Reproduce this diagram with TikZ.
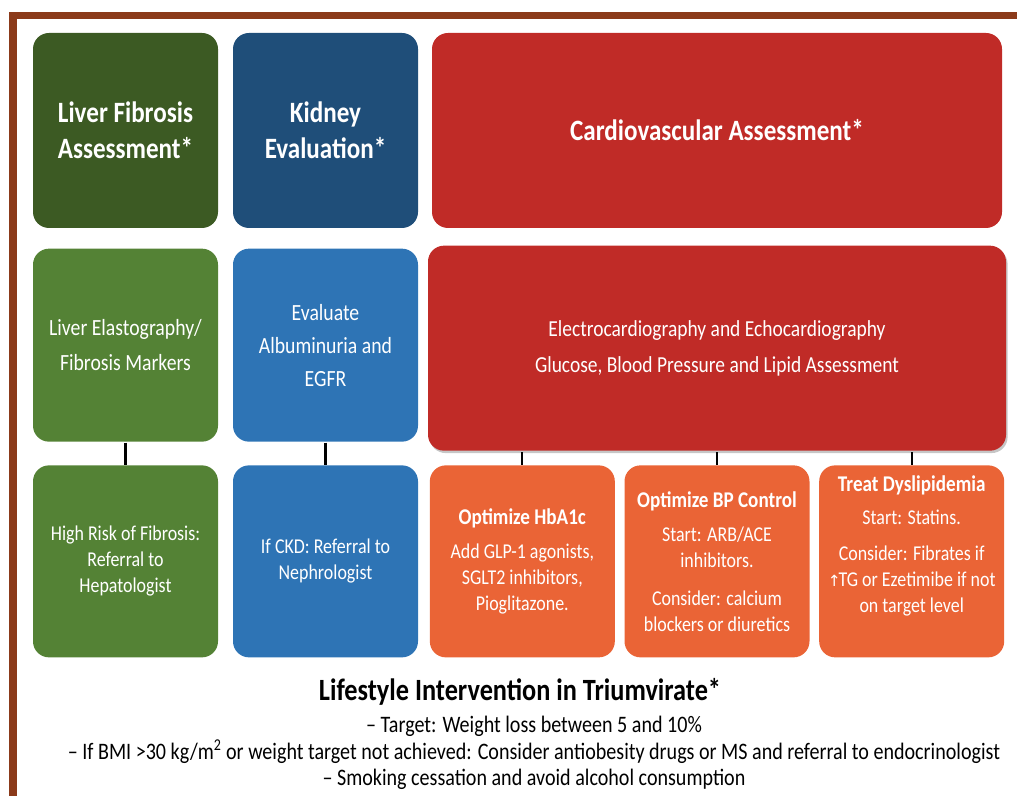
\documentclass[tikz,border=0pt]{standalone}
\usepackage{fontspec}
\setmainfont[FakeStretch=0.85]{Carlito}
\newfontfamily\arrowfont{DejaVu Sans}
\usepackage{tikz}
\usetikzlibrary{positioning,shadows}
\definecolor{frameBrown}{HTML}{8B3A1A}
\definecolor{liverDark}{HTML}{3C5A23}
\definecolor{kidneyDark}{HTML}{1F4E79}
\definecolor{cardioRed}{HTML}{C02B27}
\definecolor{liverGreen}{HTML}{548235}
\definecolor{kidneyBlue}{HTML}{2E74B5}
\definecolor{planOrange}{HTML}{EA6436}

\begin{document}
\begin{tikzpicture}[very thick]
    \useasboundingbox (0,0) rectangle (25.425,19.9);

    % Shapes
    \tikzstyle{head}=[rectangle, rounded corners=0.4cm, text=white, align=center, minimum width=4.625cm, minimum height=4.875cm, font=\bfseries\fontsize{21}{25.5}\selectfont]
    \tikzstyle{exam}=[rectangle, rounded corners=0.4cm, text=white, align=center, minimum width=4.625cm, minimum height=4.825cm, font=\fontsize{16.5}{24.5}\selectfont]
    \tikzstyle{plan}=[rectangle, rounded corners=0.4cm, text=white, align=center, minimum width=4.625cm, minimum height=4.8cm, font=\fontsize{15}{18.5}\selectfont]
    \tikzstyle{link}=[black, line width=1.6pt]

    % Frame
    \draw[frameBrown, line width=5pt] (0.325,0) |- (25.425,19.5);

    % Headers
    \node[head, fill=liverDark] at (3.1375,16.6375) (liverHead) {Liver Fibrosis\\Assessment*};
    \node[head, fill=kidneyDark] at (8.1375,16.6375) (kidneyHead) {Kidney\\Evaluation*};
    \node[head, fill=cardioRed, minimum width=14.25cm] at (17.925,16.6375) (cardioHead) {Cardiovascular Assessment*};

    % Tests
    \node[exam, fill=liverGreen, below=0.475cm of liverHead] (liverTest) {Liver Elastography/\\Fibrosis Markers};
    \node[exam, fill=kidneyBlue, below=0.475cm of kidneyHead, font=\fontsize{16.5}{23.5}\selectfont] (kidneyTest) {Evaluate\\Albuminuria and\\EGFR};
    \node[exam, fill=cardioRed, below=0.4cm of cardioHead, minimum width=14.45cm, minimum height=5.125cm, font=\fontsize{16.3}{25.5}\selectfont,
          drop shadow={opacity=0.45, shadow xshift=0.04cm, shadow yshift=-0.06cm}] (cardioTest)
          {Electrocardiography and Echocardiography\\Glucose, Blood Pressure and Lipid Assessment};

    % Referrals
    \node[plan, fill=liverGreen, below=0.55cm of liverTest] (liverRef) {High Risk of Fibrosis:\\Referral to\\Hepatologist};
    \node[plan, fill=kidneyBlue, below=0.55cm of kidneyTest] (kidneyRef) {If CKD: Referral to\\Nephrologist};

    % Treatments
    \node[plan, fill=planOrange, below=0.325cm of cardioTest] (bpPlan)
          {{\bfseries\fontsize{16}{18.5}\selectfont Optimize BP Control}\\[6pt]Start: ARB/ACE\\inhibitors.\\[8pt]Consider: calcium\\blockers or diuretics};
    \node[plan, fill=planOrange, left=0.2cm of bpPlan] (hbPlan)
          {{\bfseries\fontsize{16}{18.5}\selectfont Optimize HbA1c}\\[6pt]Add GLP-1 agonists,\\SGLT2 inhibitors,\\Pioglitazone.};
    \node[plan, fill=planOrange, right=0.2cm of bpPlan] (lipidPlan)
          {{\bfseries\fontsize{16}{18.5}\selectfont Treat Dyslipidemia}\\[5pt]Start: Statins.\\[7pt]Consider: Fibrates if\\{\arrowfont\fontsize{11}{18.5}\selectfont ↑}\kern-1.5pt TG or Ezetimibe if not\\on target level\\[6pt]};

    % Links
    \draw[link] (liverTest) -- (liverRef);
    \draw[link] (kidneyTest) -- (kidneyRef);
    \draw[link] (hbPlan.north) -- (hbPlan.north |- cardioTest.south);
    \draw[link] (bpPlan.north) -- (bpPlan.north |- cardioTest.south);
    \draw[link] (lipidPlan.north) -- (lipidPlan.north |- cardioTest.south);

    % Lifestyle
    \node[font=\bfseries\fontsize{22}{24}\selectfont] at (13.0,2.6) (lifeTitle) {Lifestyle Intervention in Triumvirate*};
    \node[below=0.0cm of lifeTitle, xshift=0.35cm, align=center, font=\fontsize{16.8}{18.8}\selectfont] (lifeList)
          {– Target: Weight loss between 5 and 10\%\\
           – If BMI >30 kg/m\textsuperscript{2} or weight target not achieved: Consider antiobesity drugs or MS and referral to endocrinologist\\
           – Smoking cessation and avoid alcohol consumption};
\end{tikzpicture}
\end{document}
